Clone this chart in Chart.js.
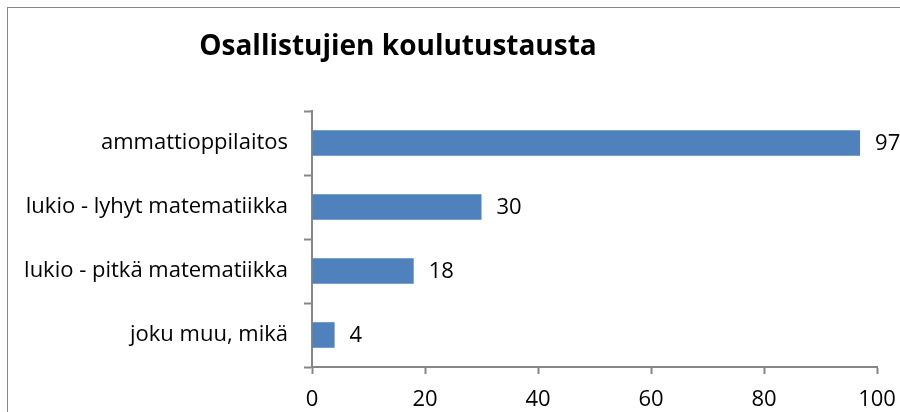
<!DOCTYPE html>
<html>
<head>
  <title>Osallistujien koulutustausta</title>
  <script src="https://cdn.jsdelivr.net/npm/chart.js"></script>
  <style>
    body { margin: 0; background: #fff; }
    #wrap { position: relative; width: 900px; height: 412px; overflow: hidden; }
    /* chart frame, only left and top edges are visible */
    #frame { position: absolute; left: 7px; top: 7px; width: 1000px; height: 1000px; border: 1px solid #868686; }
    canvas { position: absolute; left: 0; top: 0; }
  </style>
</head>
<body>
  <div id="wrap">
    <div id="frame"></div>
    <canvas id="barChart" width="900" height="412"></canvas>
  </div>

  <script>
    const chartTitle = 'Osallistujien koulutustausta';
    const categories = ['ammattioppilaitos', 'lukio - lyhyt matematiikka', 'lukio - pitkä matematiikka', 'joku muu, mikä'];
    const counts = [97, 30, 18, 4];
    const xTicks = [0, 20, 40, 60, 80, 100];

    const fontFamily = '"Open Sans", sans-serif';
    const axisGray = '#868686';

    // Title drawn at a fixed spot, like the original
    const titlePlugin = {
      id: 'fixedTitle',
      afterDraw(chart) {
        const ctx = chart.ctx;
        ctx.save();
        ctx.font = 'bold 28px ' + fontFamily;
        ctx.fillStyle = '#000';
        ctx.textAlign = 'center';
        ctx.textBaseline = 'middle';
        ctx.fillText(chartTitle, 398, 47);
        ctx.restore();
      }
    };

    // Value labels to the right of the bars
    const valueLabels = {
      id: 'valueLabels',
      afterDatasetsDraw(chart) {
        const ctx = chart.ctx;
        const meta = chart.getDatasetMeta(0);
        ctx.save();
        ctx.font = '22px ' + fontFamily;
        ctx.fillStyle = '#000';
        ctx.textAlign = 'left';
        ctx.textBaseline = 'middle';
        meta.data.forEach((bar, i) => {
          ctx.fillText(String(counts[i]), bar.x + 15, bar.y + 1);
        });
        ctx.restore();
      }
    };

    const ctx = document.getElementById('barChart').getContext('2d');
    new Chart(ctx, {
      type: 'bar',
      data: {
        labels: categories,
        datasets: [{
          data: counts,
          backgroundColor: '#4F81BD',
          borderWidth: 0,
          categoryPercentage: 1,
          barPercentage: 0.4
        }]
      },
      options: {
        indexAxis: 'y',
        responsive: false,
        animation: false,
        layout: { padding: { top: 111, right: 23, bottom: 0, left: 0 } },
        plugins: {
          legend: { display: false },
          tooltip: { enabled: false },
          title: { display: false }
        },
        scales: {
          x: {
            min: 0,
            max: 100,
            afterBuildTicks: scale => { scale.ticks = xTicks.map(v => ({ value: v })); },
            afterFit: scale => {
              scale.height = 45;
              scale.paddingLeft = 0;
              scale.paddingRight = 0;
            },
            grid: { drawOnChartArea: false, tickLength: 7, tickColor: axisGray, tickWidth: 2 },
            border: { color: axisGray, width: 2 },
            ticks: { color: '#000', padding: 13, font: { family: fontFamily, size: 22 } }
          },
          y: {
            afterFit: scale => {
              scale.width = 312;
              scale.paddingTop = 0;
              scale.paddingBottom = 0;
            },
            grid: { drawOnChartArea: false, tickLength: 8, tickColor: axisGray, tickWidth: 2 },
            border: { color: axisGray, width: 2 },
            ticks: { color: '#000', padding: 16, font: { family: fontFamily, size: 22 } }
          }
        }
      },
      plugins: [titlePlugin, valueLabels]
    });
  </script>
</body>
</html>
